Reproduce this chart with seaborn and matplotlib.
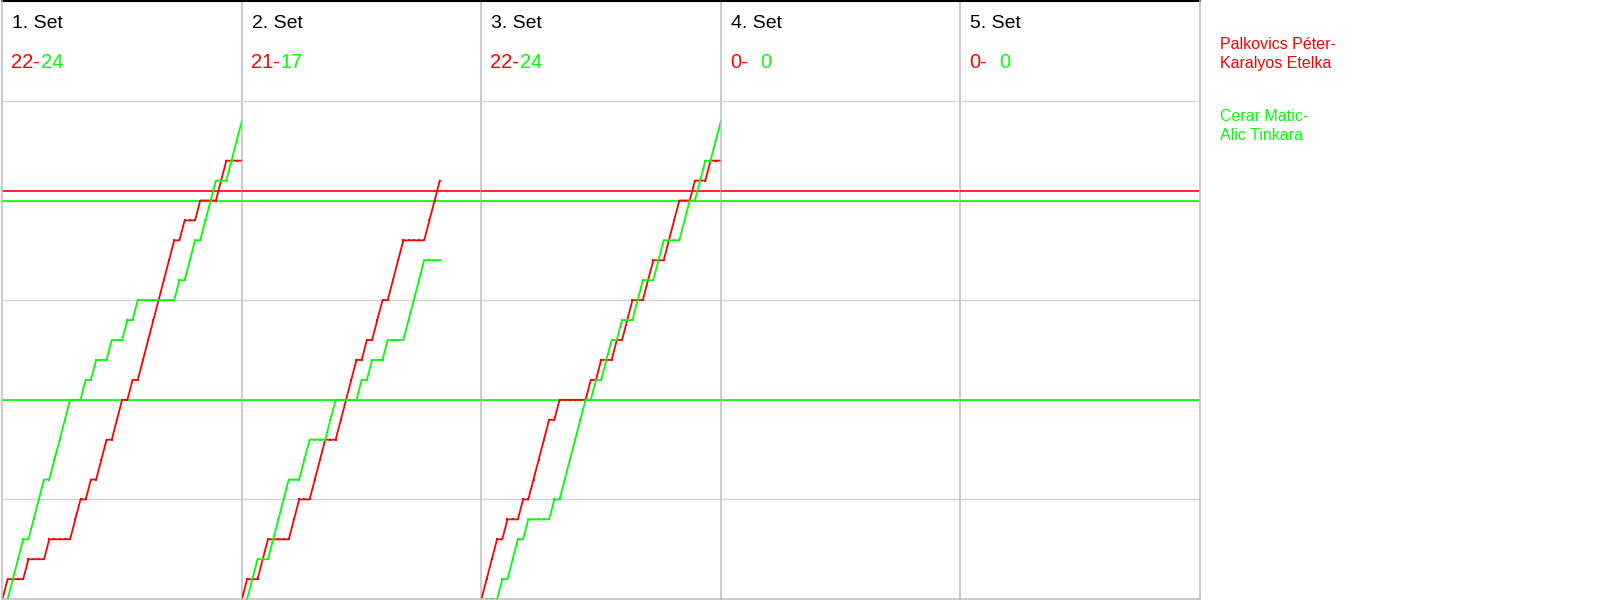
import matplotlib
matplotlib.use("Agg")
import matplotlib.pyplot as plt
import numpy as np
import pandas as pd
import seaborn as sns

# rally winners per set: R = red pair, G = green pair
set1_winners = list("RGGGRGGGRGGGGRRGRGRRGRRGRGRRRRRRRGRGGRGGGRRGGG")
set2_winners = list("RGGRRGGGGRRGGRRRGGRRRRGRGRRGRRRGGGGRRR")
set3_winners = list("RRRGRGGRGRRRRGRGGGGGRGRGGRGRRGGRRGGRRRGGRGGRGG")
set4_winners = []
set5_winners = []
all_sets = [set1_winners, set2_winners, set3_winners, set4_winners, set5_winners]

set_titles = ["1. Set", "2. Set", "3. Set", "4. Set", "5. Set"]
red_scores = ["22-", "21-", "22-", "0-", "0-"]
green_scores = ["24", "17", "24", "0", "0"]

red_name = "Palkovics Péter-\nKaralyos Etelka"
green_name = "Cerar Matic-\nAlic Tinkara"

red_ref_lines = [20.5]
green_ref_lines = [10, 20]

RED = "#ff0000"
GREEN = "#00ff00"

sns.set_style("white")
plt.rcParams['font.family'] = ['Liberation Sans', 'DejaVu Sans']

fig = plt.figure(figsize=(16, 6), dpi=100)
axes = fig.subplots(1, 5, sharey=True)
fig.subplots_adjust(left=0.0015, right=0.75, bottom=0.0015, top=0.998, wspace=0)

max_rallies = max(len(s) for s in all_sets)

for i, ax in enumerate(axes):
    ax.patch.set_alpha(0)
    winners = all_sets[i]
    if len(winners) > 0:
        w = np.array(winners)
        red = np.concatenate([[0], np.cumsum(w == "R")])
        green = np.concatenate([[0], np.cumsum(w == "G")])
        rally = np.arange(len(winners) + 1)
        df = pd.DataFrame({
            "rally": np.concatenate([rally, rally]),
            "score": np.concatenate([red, green]),
            "team": ["red"] * len(rally) + ["green"] * len(rally),
        })
        sns.lineplot(data=df, x="rally", y="score", hue="team",
                     palette={"red": RED, "green": GREEN}, estimator=None,
                     ax=ax, legend=False, lw=1.3, marker="s", markersize=1.6,
                     markeredgewidth=0, zorder=3)

    for y in red_ref_lines:
        ax.axhline(y, color=RED, lw=1.2, zorder=2)
    for y in green_ref_lines:
        ax.axhline(y, color=GREEN, lw=1.2, zorder=2)

    ax.set_xlim(0, max_rallies)
    ax.set_ylim(0, 30)
    ax.set_xticks([])
    ax.set_yticks([5, 10, 15, 20, 25])
    ax.tick_params(length=0, labelleft=False)
    ax.grid(axis="y", color="#d3d3d3", lw=1)
    ax.set_xlabel("")
    ax.set_ylabel("")

    for side in ["left", "right", "bottom"]:
        ax.spines[side].set_visible(True)
        ax.spines[side].set_color("#bdbdbd")
        ax.spines[side].set_linewidth(1.1)
        ax.spines[side].set_zorder(5)
    ax.spines["top"].set_visible(True)
    ax.spines["top"].set_color("black")
    ax.spines["top"].set_linewidth(1.5)
    if i > 0:
        ax.spines["left"].set_visible(False)

    ax.text(10 / 240, 1 - 22 / 600, set_titles[i], transform=ax.transAxes,
            fontsize=14, color="black", va="center", ha="left")
    ax.text(9 / 240, 1 - 62 / 600, red_scores[i], transform=ax.transAxes,
            fontsize=14.5, color=RED, va="center", ha="left")
    ax.text(39 / 240, 1 - 62 / 600, green_scores[i], transform=ax.transAxes,
            fontsize=14.5, color=GREEN, va="center", ha="left")

fig.text(1220 / 1600, 1 - 54 / 600, red_name, color=RED, fontsize=11.5,
         va="center", ha="left", linespacing=1.4)
fig.text(1220 / 1600, 1 - 126 / 600, green_name, color=GREEN, fontsize=11.5,
         va="center", ha="left", linespacing=1.4)

fig.savefig("out.png", dpi=100)
